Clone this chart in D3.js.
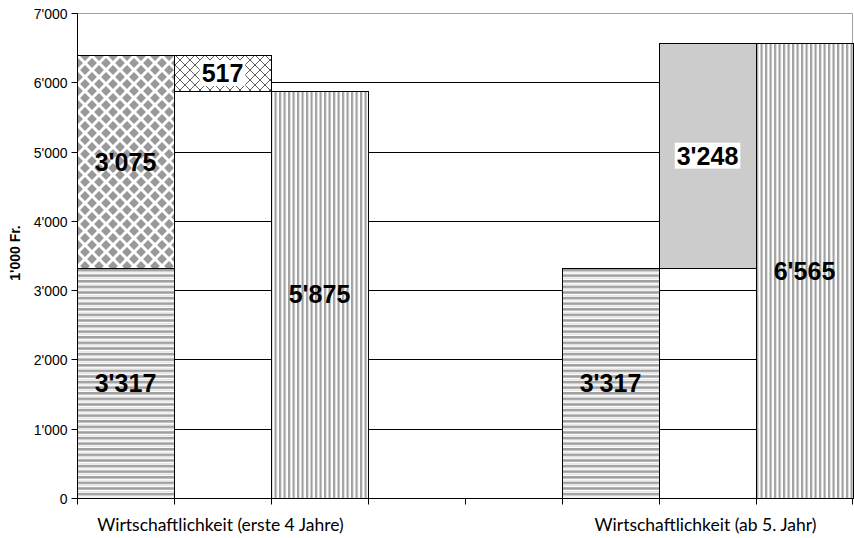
<!DOCTYPE html>
<html>
<head>
<meta charset="utf-8">
<script src="https://cdn.jsdelivr.net/npm/d3@7"></script>
<style>
  body { margin: 0; background: #fff; }
  svg { display: block; }
</style>
</head>
<body>
<svg id="chart" width="854" height="538"></svg>
<script>
// ---- data (1'000 Fr.) ----
const groups     = ["Wirtschaftlichkeit (erste 4 Jahre)", "Wirtschaftlichkeit (ab 5. Jahr)"];
const sockel     = [3317, 3317];   // base block, horizontal stripes
const aufschlag  = [3075, 3248];   // upper block (diamonds / solid grey)
const differenz  = [517, 0];       // gap between the stack and the total
const total      = [5875, 6565];   // right bar of each group, vertical stripes
const yTickVals  = [0, 1000, 2000, 3000, 4000, 5000, 6000, 7000];
const yTitle     = "1'000 Fr.";

// ---- layout ----
const W = 854, H = 538;
const m = { left: 77, right: 1, top: 13, bottom: 40 };
const svg = d3.select("#chart");
svg.append("rect").attr("width", W).attr("height", H).attr("fill", "#fff");

const fmt = d3.formatLocale({ decimal: ".", thousands: "'", grouping: [3], currency: ["", ""] }).format(",d");

const slot = d3.scaleBand().domain(d3.range(8)).range([m.left, W - m.right]).paddingInner(0).paddingOuter(0);
const y = d3.scaleLinear().domain([0, 7000]).range([H - m.bottom, m.top]);

// ---- fill patterns ----
const defs = svg.append("defs");
const GREY = "#a0a0a0";

const ph = defs.append("pattern").attr("id", "hstripes").attr("patternUnits", "userSpaceOnUse")
  .attr("width", 8).attr("height", 5.6);
ph.append("rect").attr("width", 8).attr("height", 5.6).attr("fill", "#fff");
ph.append("rect").attr("y", 0).attr("width", 8).attr("height", 2.6).attr("fill", GREY);
ph.append("rect").attr("y", 3.8).attr("width", 8).attr("height", 0.8).attr("fill", "#dedede");

const pv = defs.append("pattern").attr("id", "vstripes").attr("patternUnits", "userSpaceOnUse")
  .attr("width", 4.5).attr("height", 8);
pv.append("rect").attr("width", 4.5).attr("height", 8).attr("fill", "#fff");
pv.append("rect").attr("x", 0).attr("width", 2.2).attr("height", 8).attr("fill", GREY);

const pd = defs.append("pattern").attr("id", "diamonds").attr("patternUnits", "userSpaceOnUse")
  .attr("width", 14).attr("height", 14).attr("x", 1).attr("y", 0);
pd.append("rect").attr("width", 14).attr("height", 14).attr("fill", "#fff");
const dia = (cx, cy, h) => `M${cx},${cy - h}L${cx + h},${cy}L${cx},${cy + h}L${cx - h},${cy}Z`;
[[0, 0], [14, 0], [0, 14], [14, 14], [7, 7]].forEach(([cx, cy]) =>
  pd.append("path").attr("d", dia(cx, cy, 4.9)).attr("fill", "#999"));

const pc = defs.append("pattern").attr("id", "cross").attr("patternUnits", "userSpaceOnUse")
  .attr("width", 10).attr("height", 10);
pc.append("rect").attr("width", 10).attr("height", 10).attr("fill", "#fff");
pc.append("path").attr("d", "M0,0L10,10M10,0L0,10").attr("stroke", "#333").attr("stroke-width", 0.8);

// ---- bar segments built from the series ----
const segments = [];
// first group: stacked base + upper block, floating difference, total
segments.push({ slot: 0, lo: 0, hi: sockel[0], fill: "url(#hstripes)", value: sockel[0] });
segments.push({ slot: 0, lo: sockel[0], hi: sockel[0] + aufschlag[0], fill: "url(#diamonds)", value: aufschlag[0] });
segments.push({ slot: 1, lo: total[0], hi: total[0] + differenz[0], fill: "url(#cross)", value: differenz[0], boxed: true });
segments.push({ slot: 2, lo: 0, hi: total[0], fill: "url(#vstripes)", value: total[0] });
// second group: base, floating upper block, total
segments.push({ slot: 5, lo: 0, hi: sockel[1], fill: "url(#hstripes)", value: sockel[1] });
segments.push({ slot: 6, lo: sockel[1], hi: sockel[1] + aufschlag[1], fill: "#cccccc", value: aufschlag[1], boxed: true });
segments.push({ slot: 7, lo: 0, hi: total[1], fill: "url(#vstripes)", value: total[1] });

const snap = v => Math.round(v) + 0.5;
const x0 = slot.range()[0], x1 = slot.range()[1];

// gridlines
svg.append("g").selectAll("line").data(yTickVals.filter(v => v > 0 && v < 7000)).join("line")
  .attr("x1", x0).attr("x2", x1)
  .attr("y1", d => snap(y(d))).attr("y2", d => snap(y(d)))
  .attr("stroke", "#000").attr("stroke-width", 1);

// plot frame (top and right)
svg.append("path")
  .attr("d", `M${snap(x0)},${snap(y(7000))}H${snap(x1) - 1}V${snap(y(0))}`)
  .attr("fill", "none").attr("stroke", "#a0a0a0").attr("stroke-width", 1);

// bars
svg.append("g").selectAll("rect").data(segments).join("rect")
  .attr("x", d => snap(slot(d.slot)))
  .attr("y", d => snap(y(d.hi)))
  .attr("width", d => Math.round(slot(d.slot) + slot.bandwidth()) - Math.round(slot(d.slot)))
  .attr("height", d => Math.round(y(d.lo)) - Math.round(y(d.hi)))
  .attr("fill", d => d.fill)
  .attr("stroke", "#000").attr("stroke-width", 1);

// value labels
const lbl = svg.append("g");
segments.forEach(d => {
  const cx = slot(d.slot) + slot.bandwidth() / 2;
  const cy = y((d.lo + d.hi) / 2);
  const g = lbl.append("g");
  const t = g.append("text")
    .attr("x", cx).attr("y", cy)
    .attr("text-anchor", "middle").attr("dy", "0.36em")
    .attr("font-family", "'Liberation Sans', Arial, sans-serif")
    .attr("font-weight", "bold").attr("font-size", 25)
    .attr("fill", "#000")
    .text(fmt(d.value));
  if (d.boxed) {
    const bb = t.node().getBBox();
    g.insert("rect", "text")
      .attr("x", bb.x - 2).attr("y", bb.y + 1)
      .attr("width", bb.width + 4).attr("height", bb.height - 2)
      .attr("fill", "#fff");
  }
});

// y axis
const yAxis = svg.append("g").attr("transform", `translate(${snap(x0)},0)`);
yAxis.append("line").attr("y1", snap(y(7000))).attr("y2", snap(y(0))).attr("stroke", "#000");
const yt = yAxis.selectAll("g.tick").data(yTickVals).join("g").attr("class", "tick")
  .attr("transform", d => `translate(0,${snap(y(d))})`);
yt.append("line").attr("x1", -6).attr("x2", 0).attr("stroke", "#000");
yt.append("text").attr("x", -10).attr("dy", "0.36em").attr("text-anchor", "end")
  .attr("font-family", "'Liberation Sans', Arial, sans-serif").attr("font-size", 14)
  .attr("fill", "#000")
  .text(d => fmt(d));

// y axis title
svg.append("text")
  .attr("transform", `translate(20,253) rotate(-90)`)
  .attr("text-anchor", "middle")
  .attr("font-family", "'Liberation Sans', Arial, sans-serif")
  .attr("font-weight", "bold").attr("font-size", 14)
  .attr("fill", "#000")
  .text(yTitle);

// x axis
const xAxis = svg.append("g").attr("transform", `translate(0,${snap(y(0))})`);
xAxis.append("line").attr("x1", x0).attr("x2", x1).attr("stroke", "#000");
const edges = slot.domain().map(i => slot(i)).concat([x1]);
xAxis.selectAll("line.tick").data(edges).join("line").attr("class", "tick")
  .attr("x1", d => snap(d) - (d === x1 ? 1 : 0)).attr("x2", d => snap(d) - (d === x1 ? 1 : 0))
  .attr("y1", 0).attr("y2", 6).attr("stroke", "#000");

// group labels, centred under the middle slot of each group
const groupSlot = [1, 6];
xAxis.selectAll("text.group").data(groups).join("text").attr("class", "group")
  .attr("x", (d, i) => slot(groupSlot[i]) + slot.bandwidth() / 2 - 2)
  .attr("y", 32)
  .attr("text-anchor", "middle")
  .attr("font-family", "Lato, 'Noto Sans', sans-serif")
  .attr("font-size", 17.5)
  .attr("fill", "#000")
  .text(d => d);
</script>
</body>
</html>
